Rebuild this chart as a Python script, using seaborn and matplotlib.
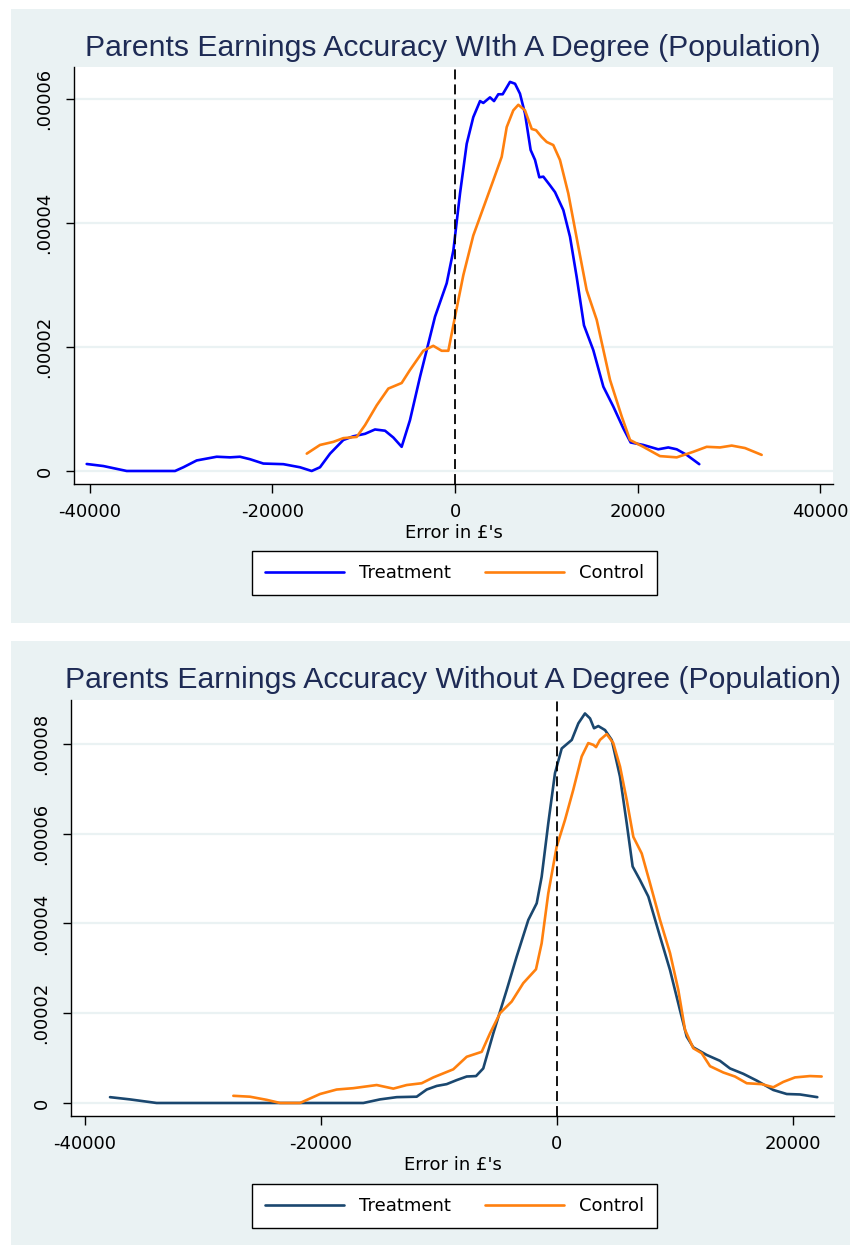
"""Kernel density of parents' earnings accuracy, with / without a degree."""

import matplotlib

matplotlib.use("Agg")
import matplotlib.pyplot as plt
import pandas as pd
import seaborn as sns
from matplotlib.patches import Rectangle

OUT_PATH = "out.png"

# Panel 1: with a degree
DEG_TREAT_X = [-40320, -38500, -35940, -30650, -29740, -28280, -26090, -24630, -23540,
               -22440, -20980, -18790, -16970, -15690, -14780, -13680, -12230, -11130,
               -9850, -8760, -7660, -6750, -5840, -4930, -3830, -3100, -2190, -910, -180,
               550, 1280, 2000, 2740, 3100, 3830, 4270, 4740, 5220, 6020, 6570, 7110, 7660,
               8280, 8760, 9230, 9670, 10400, 10950, 11860, 12590, 13320, 14120, 15140,
               16240, 17330, 18420, 19230, 20610, 22250, 23350, 24270, 25360, 26740]
DEG_TREAT_Y = [1.13e-6, 0.8e-6, 0.0, 0.0, 0.6e-6, 1.7e-6, 2.3e-6, 2.2e-6, 2.3e-6,
               1.9e-6, 1.2e-6, 1.1e-6, 0.6e-6, 0.0, 0.6e-6, 2.8e-6, 5.0e-6, 5.6e-6,
               6.0e-6, 6.7e-6, 6.5e-6, 5.4e-6, 3.9e-6, 8.2e-6, 15.2e-6, 19.5e-6, 24.9e-6,
               30.3e-6, 35.6e-6, 44.8e-6, 52.8e-6, 57.1e-6, 59.7e-6, 59.4e-6, 60.3e-6,
               59.7e-6, 60.8e-6, 60.8e-6, 62.8e-6, 62.5e-6, 60.9e-6, 57.7e-6, 51.8e-6,
               50.2e-6, 47.4e-6, 47.5e-6, 46.1e-6, 45.0e-6, 42.1e-6, 37.8e-6, 31.3e-6,
               23.5e-6, 19.5e-6, 13.6e-6, 10.4e-6, 6.9e-6, 4.6e-6, 4.2e-6, 3.5e-6, 3.8e-6,
               3.5e-6, 2.6e-6, 1.1e-6]

DEG_CTRL_X = [-16230, -14780, -13320, -12230, -10760, -9850, -8570, -7300, -5840, -4930,
              -3470, -2380, -1460, -730, 0, 910, 2000, 3280, 4190, 5110, 5660, 6380, 6930,
              7660, 8400, 8870, 9490, 10040, 10760, 11490, 12400, 13500, 14410, 15510,
              16970, 18250, 19160, 20610, 22440, 24270, 26090, 27550, 29010, 30290,
              31750, 33570]
DEG_CTRL_Y = [2.8e-6, 4.2e-6, 4.7e-6, 5.3e-6, 5.5e-6, 7.4e-6, 10.6e-6, 13.3e-6, 14.2e-6,
              16.3e-6, 19.4e-6, 20.2e-6, 19.4e-6, 19.4e-6, 24.9e-6, 31.6e-6, 38.0e-6,
              43.2e-6, 46.9e-6, 50.7e-6, 55.5e-6, 58.2e-6, 59.1e-6, 58.2e-6, 55.2e-6,
              55.0e-6, 53.9e-6, 53.1e-6, 52.6e-6, 50.2e-6, 44.8e-6, 36.2e-6, 29.2e-6,
              24.4e-6, 14.7e-6, 8.8e-6, 5.0e-6, 3.9e-6, 2.4e-6, 2.2e-6, 3.1e-6, 3.9e-6,
              3.8e-6, 4.1e-6, 3.7e-6, 2.6e-6]

# Panel 2: without a degree
NODEG_TREAT_X = [-37880, -36190, -33930, -16410, -15000, -13580, -11890, -11040, -10190,
                 -9350, -8500, -7650, -6860, -6250, -5400, -4260, -3420, -2430, -1720,
                 -1300, -740, -170, 400, 1250, 1810, 2370, 2800, 3140, 3500, 4070, 4640,
                 5340, 5910, 6410, 7030, 7740, 8730, 9580, 10420, 10990, 11550, 12690,
                 13810, 14660, 15790, 16920, 18330, 19470, 20590, 22060]
NODEG_TREAT_Y = [1.3e-6, 0.8e-6, 0.0, 0.0, 0.8e-6, 1.3e-6, 1.4e-6, 3.0e-6, 3.8e-6,
                 4.2e-6, 5.1e-6, 5.9e-6, 6.0e-6, 7.7e-6, 15.5e-6, 25.2e-6, 32.6e-6,
                 40.8e-6, 44.5e-6, 50.4e-6, 62.3e-6, 73.5e-6, 79.0e-6, 80.9e-6, 84.6e-6,
                 86.8e-6, 85.7e-6, 83.5e-6, 84.0e-6, 83.1e-6, 80.9e-6, 72.7e-6, 62.3e-6,
                 52.7e-6, 49.7e-6, 46.0e-6, 37.1e-6, 29.6e-6, 20.7e-6, 14.8e-6, 12.4e-6,
                 10.7e-6, 9.4e-6, 7.7e-6, 6.5e-6, 5.0e-6, 2.9e-6, 2.0e-6, 1.9e-6, 1.3e-6]

NODEG_CTRL_X = [-27430, -26020, -24600, -23470, -21780, -20080, -18670, -17260, -16410,
                -15280, -13870, -12740, -11470, -10480, -8790, -7650, -6380, -5680, -4830,
                -3840, -2860, -1780, -1300, -740, -30, 680, 1380, 2090, 2650, 3080, 3310,
                3640, 4210, 4770, 5340, 5910, 6470, 7180, 7880, 8730, 9580, 10280, 10850,
                11550, 12260, 12970, 14090, 15080, 16080, 17350, 18330, 19180, 20170,
                21440, 22430]
NODEG_CTRL_Y = [1.6e-6, 1.4e-6, 0.7e-6, 0.0, 0.0, 2.0e-6, 3.0e-6, 3.3e-6, 3.6e-6, 4.0e-6,
                3.2e-6, 4.0e-6, 4.4e-6, 5.7e-6, 7.5e-6, 10.3e-6, 11.4e-6, 15.5e-6,
                20.0e-6, 22.6e-6, 26.7e-6, 29.8e-6, 35.6e-6, 46.7e-6, 57.1e-6, 63.1e-6,
                69.8e-6, 77.2e-6, 80.2e-6, 79.8e-6, 79.3e-6, 80.9e-6, 82.2e-6, 80.2e-6,
                75.0e-6, 67.5e-6, 59.3e-6, 55.6e-6, 49.0e-6, 40.8e-6, 33.4e-6, 25.2e-6,
                16.3e-6, 12.2e-6, 11.1e-6, 8.2e-6, 6.8e-6, 5.9e-6, 4.4e-6, 4.2e-6, 3.5e-6,
                4.7e-6, 5.7e-6, 6.0e-6, 5.9e-6]

SERIES_LABELS = ["Treatment", "Control"]

DEG_XTICKS = [-40000, -20000, 0, 20000, 40000]
DEG_YTICKS = [0, 0.00002, 0.00004, 0.00006]
DEG_YTICKLABELS = ["0", ".00002", ".00004", ".00006"]

NODEG_XTICKS = [-40000, -20000, 0, 20000]
NODEG_YTICKS = [0, 0.00002, 0.00004, 0.00006, 0.00008]
NODEG_YTICKLABELS = ["0", ".00002", ".00004", ".00006", ".00008"]

BG = "#EAF2F3"
TITLE_COLOR = "#1E2B55"
FIG_W, FIG_H = 853, 1247


def fx(px):
    return px / FIG_W


def fy(py):
    return 1 - py / FIG_H


def draw_panel(fig, box, ax_px, title, title_base, frames, colors, xlim, ylim,
               xticks, yticks, yticklabels, legend_y):
    # Stata-style grey panel behind everything
    x0, y0, x1, y1 = box
    fig.patches.append(Rectangle((fx(x0), fy(y1)), fx(x1) - fx(x0), fy(y0) - fy(y1),
                                 transform=fig.transFigure, facecolor=BG,
                                 edgecolor="none", zorder=-10))

    l, t, r, b = ax_px
    ax = fig.add_axes([fx(l), fy(b), fx(r) - fx(l), fy(t) - fy(b)])
    ax.set_facecolor("white")

    df = pd.concat(frames, ignore_index=True)
    sns.lineplot(data=df, x="error", y="density", hue="group", palette=colors,
                 hue_order=SERIES_LABELS, sort=False, estimator=None, linewidth=1.9,
                 ax=ax, legend=False)
    ax.axvline(0, color="black", linestyle=(0, (5.5, 2.8)), linewidth=1.3, zorder=3)

    ax.set_xlim(*xlim)
    ax.set_ylim(*ylim)
    ax.set_xticks(xticks)
    ax.set_xticklabels([str(v) for v in xticks])
    ax.set_yticks(yticks)
    ax.set_yticklabels(yticklabels, rotation=90, va="center")
    ax.grid(axis="y", color=BG, linewidth=1.6)
    ax.grid(axis="x", visible=False)
    ax.set_axisbelow(True)
    for side in ("top", "right"):
        ax.spines[side].set_visible(False)
    for side in ("left", "bottom"):
        ax.spines[side].set_color("black")
        ax.spines[side].set_linewidth(1.0)
    ax.tick_params(axis="x", length=6.5, width=1.0, pad=7, labelsize=13,
                   colors="black", labelcolor="black")
    ax.tick_params(axis="y", length=5.8, width=1.0, pad=9, labelsize=13,
                   colors="black", labelcolor="black")
    ax.set_xlabel("Error in £'s", fontsize=13, labelpad=2, color="black")
    ax.set_ylabel("")

    fig.text(0.531, fy(title_base), title, ha="center", va="baseline", fontsize=21.7,
             color=TITLE_COLOR, family=["Liberation Sans", "DejaVu Sans"])

    handles = [plt.Line2D([], [], color=c, linewidth=1.9) for c in colors]
    leg = ax.legend(handles, SERIES_LABELS, ncol=2, loc="center",
                    bbox_to_anchor=(fx(454.5), fy(legend_y)),
                    bbox_transform=fig.transFigure, frameon=True, fancybox=False,
                    edgecolor="black", fontsize=13, handlelength=4.4, handletextpad=0.8,
                    columnspacing=1.9, borderpad=0.73, labelcolor="black")
    leg.get_frame().set_linewidth(1.0)
    leg.get_frame().set_alpha(1.0)
    return ax


def make_frame(x, y, label):
    return pd.DataFrame({"error": x, "density": y, "group": label})


def main():
    sns.set_style("ticks")
    plt.rcParams["font.family"] = ["DejaVu Sans"]
    plt.rcParams["text.color"] = "black"

    fig = plt.figure(figsize=(FIG_W / 100, FIG_H / 100), dpi=100)
    fig.patch.set_facecolor("white")

    draw_panel(
        fig, (11, 9, 850, 623), (74, 67, 833, 484),
        "Parents Earnings Accuracy WIth A Degree (Population)", 56,
        [make_frame(DEG_TREAT_X, DEG_TREAT_Y, "Treatment"),
         make_frame(DEG_CTRL_X, DEG_CTRL_Y, "Control")],
        ["#0000FF", "#FF800E"],
        (-41710, 41380), (-0.0000021, 0.0000652),
        DEG_XTICKS, DEG_YTICKS, DEG_YTICKLABELS, 573,
    )
    draw_panel(
        fig, (11, 641, 850, 1245), (71, 700, 834, 1116),
        "Parents Earnings Accuracy Without A Degree (Population)", 688,
        [make_frame(NODEG_TREAT_X, NODEG_TREAT_Y, "Treatment"),
         make_frame(NODEG_CTRL_X, NODEG_CTRL_Y, "Control")],
        ["#1A476F", "#FF800E"],
        (-41186, 23475), (-0.0000029, 0.0000898),
        NODEG_XTICKS, NODEG_YTICKS, NODEG_YTICKLABELS, 1206,
    )

    fig.savefig(OUT_PATH, dpi=100, facecolor="white")
    plt.close(fig)


if __name__ == "__main__":
    main()
